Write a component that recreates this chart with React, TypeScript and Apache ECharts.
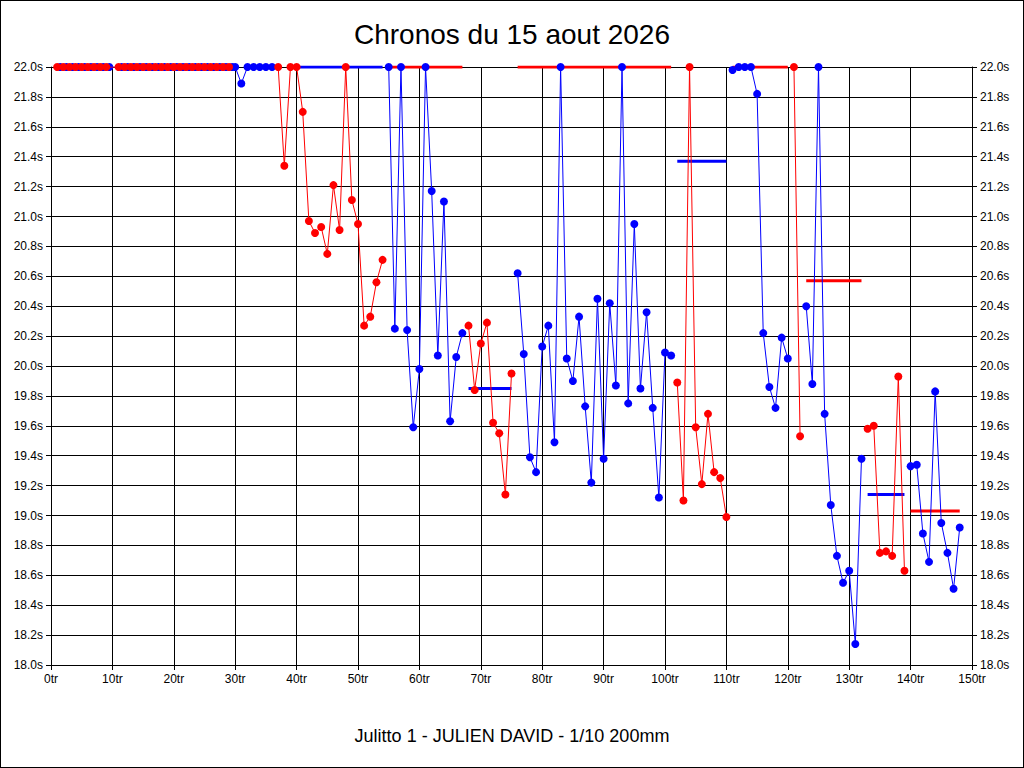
import React, { useEffect, useRef } from "react";
import * as echarts from "echarts";

const TITLE = "Chronos du 15 aout 2026";
const SUBTITLE = "Julitto 1 - JULIEN DAVID - 1/10 200mm";

const earlyLaps = [1,2,3,4,5,6,7,8,9,11,12,13,14,15,16,17,18,19,20,21,22,23,24,25,26,27,28,29];
const blueB_laps = [30,31,32,33,34,35,36];
const blueB_vals = [22,21.89,22,22,22,22,22];
const redC_laps = [37,38,39,40,41,42,43,44,45,46,47,48,49,50,51,52,53,54];
const redC_vals = [22,21.34,22,22,21.7,20.97,20.89,20.93,20.75,21.21,20.91,22,21.11,20.95,20.27,20.33,20.56,20.71];
const blueD_laps = [55,56,57,58,59,60,61,62,63,64,65,66,67];
const blueD_vals = [22,20.25,22,20.24,19.59,19.98,22,21.17,20.07,21.1,19.63,20.06,20.22];
const redE_laps = [68,69,70,71,72,73,74,75];
const redE_vals = [20.27,19.84,20.15,20.29,19.62,19.55,19.14,19.95];
const blueF_laps = [76,77,78,79,80,81,82,83,84,85,86,87,88,89,90,91,92,93,94,95,96,97,98,99,100,101];
const blueF_vals = [20.62,20.08,19.39,19.29,20.13,20.27,19.49,22,20.05,19.9,20.33,19.73,19.22,20.45,19.38,20.42,19.87,22,19.75,20.95,19.85,20.36,19.72,19.12,20.09,20.07];
const redG_laps = [102,103,104,105,106,107,108,109,110];
const redG_vals = [19.89,19.1,22,19.59,19.21,19.68,19.29,19.25,18.99];
const blueH_laps = [111,112,113,114,115,116,117,118,119,120];
const blueH_vals = [21.98,22,22,22,21.82,20.22,19.86,19.72,20.19,20.05];
const redI_laps = [121,122];
const redI_vals = [22,19.53];
const blueJ_laps = [123,124,125,126,127,128,129,130,131,132];
const blueJ_vals = [20.4,19.88,22,19.68,19.07,18.73,18.55,18.63,18.14,19.38];
const redK_laps = [133,134,135,136,137,138,139];
const redK_vals = [19.58,19.6,18.75,18.76,18.73,19.93,18.63];
const blueL_laps = [140,141,142,143,144,145,146,147,148];
const blueL_vals = [19.33,19.34,18.88,18.69,19.83,18.95,18.75,18.51,18.92];

// average segments: [fromLap, toLap, value, color]
const avgFrom = [40, 55, 68, 76, 102, 111, 123, 133, 140];
const avgTo = [54, 67, 75, 101, 110, 120, 132, 139, 148];
const avgVal = [22, 22, 19.85, 22, 21.37, 22, 20.57, 19.14, 19.03];
const avgCol = ["blue", "red", "blue", "red", "blue", "red", "red", "blue", "red"];

const RED = "#ff0000";
const BLUE = "#0000ff";

function zip(l: number[], v: number[]) {
  return l.map((x, i) => [x, v[i]]);
}

function lapSeries(data: number[][], color: string, z = 3) {
  return {
    type: "line",
    data,
    symbol: "circle",
    symbolSize: 8,
    lineStyle: { color, width: 1 },
    itemStyle: { color },
    z,
  };
}

export default function App() {
  const ref = useRef<HTMLDivElement>(null);
  useEffect(() => {
    const chart = echarts.init(ref.current!, null, { renderer: "svg" });
    const earlyRed: number[][] = [];
    const earlyBlue: number[][] = [];
    earlyLaps.forEach((l) => {
      earlyRed.push([l, 22]);
      earlyBlue.push([l + 0.5, 22]);
    });
    const series: any[] = [
      lapSeries(earlyBlue, BLUE, 3),
      lapSeries(earlyRed, RED, 4),
      lapSeries(zip(blueB_laps, blueB_vals), BLUE),
      lapSeries(zip(redC_laps, redC_vals), RED),
      lapSeries(zip(blueD_laps, blueD_vals), BLUE),
      lapSeries(zip(redE_laps, redE_vals), RED),
      lapSeries(zip(blueF_laps, blueF_vals), BLUE),
      lapSeries(zip(redG_laps, redG_vals), RED),
      lapSeries(zip(blueH_laps, blueH_vals), BLUE),
      lapSeries(zip(redI_laps, redI_vals), RED),
      lapSeries(zip(blueJ_laps, blueJ_vals), BLUE),
      lapSeries(zip(redK_laps, redK_vals), RED),
      lapSeries(zip(blueL_laps, blueL_vals), BLUE),
    ];
    avgFrom.forEach((f, i) => {
      const c = avgCol[i] === "red" ? RED : BLUE;
      series.push({
        type: "line",
        data: [[f, avgVal[i]], [avgTo[i], avgVal[i]]],
        symbol: "none",
        lineStyle: { color: c, width: 3 },
        z: 2,
      });
    });
    const axisLine = { lineStyle: { color: "#000" } };
    chart.setOption({
      animation: false,
      backgroundColor: "#fff",
      title: [
        { text: TITLE, left: "center", top: 14, textStyle: { fontFamily: "Liberation Sans", fontSize: 28, fontWeight: "normal", color: "#000" } },
        { text: SUBTITLE, left: "center", top: 721, textStyle: { fontFamily: "Liberation Sans", fontSize: 18, fontWeight: "normal", color: "#000" } },
      ],
      grid: { left: 50, right: 51, top: 66, bottom: 102 },
      xAxis: {
        type: "value", min: 0, max: 150, interval: 10,
        axisLine, axisTick: { show: true, lineStyle: { color: "#000" } },
        axisLabel: { formatter: (v: number) => v + "tr", color: "#000", fontFamily: "Liberation Sans", fontSize: 12 },
        splitLine: { lineStyle: { color: "#000" } },
      },
      yAxis: [
        {
          type: "value", min: 18, max: 22, interval: 0.2,
          axisLine: { show: true, lineStyle: { color: "#000" } }, axisTick: { show: true, lineStyle: { color: "#000" } },
          axisLabel: { formatter: (v: number) => v.toFixed(1) + "s", color: "#000", fontFamily: "Liberation Sans", fontSize: 12 },
          splitLine: { lineStyle: { color: "#000" } },
        },
        {
          type: "value", min: 18, max: 22, interval: 0.2, position: "right",
          axisLine: { show: true, lineStyle: { color: "#000" } }, axisTick: { show: true, lineStyle: { color: "#000" } },
          axisLabel: { formatter: (v: number) => v.toFixed(1) + "s", color: "#000", fontFamily: "Liberation Sans", fontSize: 12 },
          splitLine: { show: false },
        },
      ],
      series,
    });
    return () => chart.dispose();
  }, []);
  return (
    <div
      ref={ref}
      style={{ position: "absolute", left: 0, top: 0, width: 1022, height: 766, border: "1px solid #000" }}
    />
  );
}
